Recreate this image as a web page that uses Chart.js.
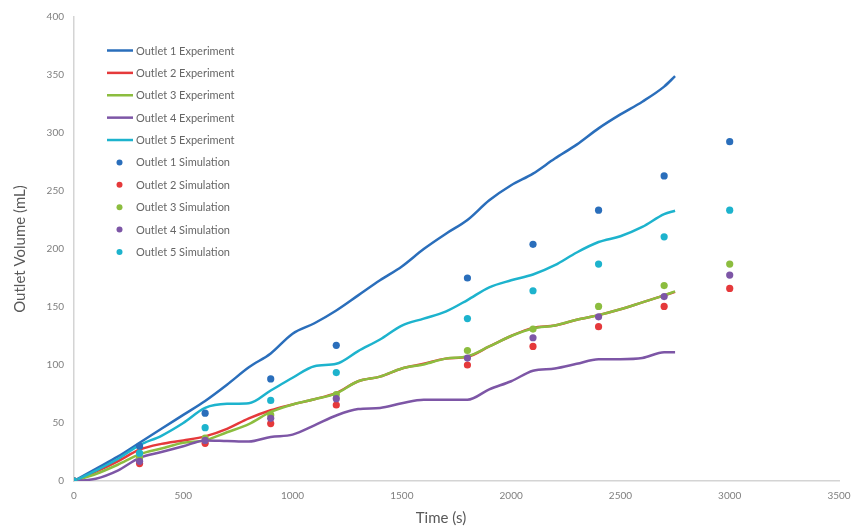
<!DOCTYPE html>
<html>
<head>
<meta charset="utf-8">
<script src="https://cdn.jsdelivr.net/npm/chart.js@4/dist/chart.umd.min.js"></script>
<style>
  html, body { margin: 0; padding: 0; background: #ffffff; }
  #wrap { width: 851px; height: 529px; position: relative; }
</style>
</head>
<body>
<div id="wrap"><canvas id="chart"></canvas></div>
<script>
// Measured outlet volumes (mL) sampled every 100 s
const expTimes = [0, 100, 200, 300, 400, 500, 600, 700, 800, 900, 1000, 1100, 1200, 1300,
  1400, 1500, 1600, 1700, 1800, 1900, 2000, 2100, 2200, 2300, 2400, 2500, 2600, 2700, 2750];
const outlet1Exp = [0, 10.5, 21, 33, 45, 57, 69, 83, 98, 110, 127, 136, 147, 160,
  173, 185, 200, 213, 225, 242, 255, 265, 278, 290, 304, 316, 327, 340, 349];
const outlet2Exp = [0, 8, 17, 27, 32, 35, 38.5, 45, 54, 61, 66, 70.5, 76, 86,
  90, 97, 101, 105.5, 107, 116, 125, 132, 134, 139, 143, 148, 154, 160, 163];
const outlet3Exp = [0, 6, 14, 23, 28, 33, 35, 42, 49, 59.5, 66, 70.5, 75.5, 86,
  90, 97, 100.5, 105.5, 107.5, 116, 125, 131.5, 134, 139, 143, 148, 154, 160, 163.5];
const outlet4Exp = [0, 2, 9, 20, 25, 30, 35, 34.5, 34, 38, 40, 48, 56.5, 62,
  63, 67, 70, 70, 70, 79, 86, 95, 97, 101, 105, 105, 106, 111, 111];
const outlet5Exp = [0, 9, 19, 31, 39, 50, 63, 66.5, 67, 78, 89, 99, 101, 112,
  122, 134, 140, 146, 156, 167, 173, 178, 186, 197, 206, 211, 219, 230, 233];

// Simulated outlet volumes (mL)
const simTimes = [0, 300, 600, 900, 1200, 1800, 2100, 2400, 2700, 3000];
const outlet1Sim = [0, 30, 58.5, 88, 117, 175, 204, 233.5, 263, 292.5];
const outlet2Sim = [0, 15, 32.5, 49.5, 65.5, 100, 116, 133, 150.5, 166];
const outlet3Sim = [0, 20, 37, 57, 74.5, 112.5, 131, 150.5, 168.5, 187];
const outlet4Sim = [0, 17, 35, 54, 71, 106, 123.5, 141.5, 159, 177.5];
const outlet5Sim = [0, 24, 46, 69.5, 93.5, 140, 164, 187, 210.5, 233.5];

const xTicks = [0, 500, 1000, 1500, 2000, 2500, 3000, 3500];
const yTicks = [0, 50, 100, 150, 200, 250, 300, 350, 400];

const seriesNames = ['Outlet 1', 'Outlet 2', 'Outlet 3', 'Outlet 4', 'Outlet 5'];
const seriesColors = ['#2a6ebb', '#e5393b', '#8cbd3f', '#7d56a6', '#1db3cd'];

const FONT = 'Lato, "Open Sans", sans-serif';

function pairs(xs, ys) {
  return xs.map((x, i) => ({ x: x, y: ys[i] }));
}

const expSeries = [outlet1Exp, outlet2Exp, outlet3Exp, outlet4Exp, outlet5Exp];
const simSeries = [outlet1Sim, outlet2Sim, outlet3Sim, outlet4Sim, outlet5Sim];

const datasets = [];
expSeries.forEach((vals, i) => {
  datasets.push({
    label: seriesNames[i] + ' Experiment',
    data: pairs(expTimes, vals),
    showLine: true,
    borderColor: seriesColors[i],
    backgroundColor: seriesColors[i],
    borderWidth: 2.5,
    pointRadius: 0,
    pointHoverRadius: 0,
    cubicInterpolationMode: 'monotone',
    order: 9 - i,
    kind: 'line'
  });
});
simSeries.forEach((vals, i) => {
  datasets.push({
    label: seriesNames[i] + ' Simulation',
    data: pairs(simTimes, vals),
    showLine: false,
    borderColor: seriesColors[i],
    backgroundColor: seriesColors[i],
    borderWidth: 0,
    pointRadius: 3.6,
    pointStyle: 'circle',
    order: 4 - i,
    kind: 'dot'
  });
});

// Legend drawn inside the plot area, top-left
const insideLegend = {
  id: 'insideLegend',
  afterDatasetsDraw(chart) {
    const ctx = chart.ctx;
    const x0 = 107, x1 = 133, textX = 136;
    const yStart = 50.5, step = 22.38;
    ctx.save();
    ctx.font = '11px ' + FONT;
    ctx.textBaseline = 'middle';
    ctx.textAlign = 'left';
    chart.data.datasets.forEach((ds, i) => {
      const y = yStart + i * step;
      if (ds.kind === 'line') {
        ctx.strokeStyle = ds.borderColor;
        ctx.lineWidth = 2.5;
        ctx.beginPath();
        ctx.moveTo(x0, y);
        ctx.lineTo(x1, y);
        ctx.stroke();
      } else {
        ctx.fillStyle = ds.backgroundColor;
        ctx.beginPath();
        ctx.arc(119.5, y, 3, 0, Math.PI * 2);
        ctx.fill();
      }
      ctx.fillStyle = '#666666';
      ctx.fillText(ds.label, textX, y + 0.5);
    });
    ctx.restore();
  }
};

// Horizontal axis title
const xTitle = {
  id: 'xTitle',
  afterDraw(chart) {
    const ctx = chart.ctx;
    ctx.save();
    ctx.font = '15px ' + FONT;
    ctx.fillStyle = '#595959';
    ctx.textAlign = 'center';
    ctx.textBaseline = 'middle';
    ctx.fillText('Time (s)', 441, 518);
    ctx.restore();
  }
};

new Chart(document.getElementById('chart'), {
  type: 'scatter',
  data: { datasets: datasets },
  plugins: [insideLegend, xTitle],
  options: {
    responsive: true,
    maintainAspectRatio: false,
    animation: false,
    layout: { padding: { top: 17, right: 12, left: 0, bottom: 0 } },
    plugins: {
      legend: { display: false },
      tooltip: { enabled: false }
    },
    scales: {
      x: {
        type: 'linear',
        min: 0,
        max: 3500,
        afterFit(scale) {
          scale.height = 48;
          scale.paddingLeft = 0;
          scale.paddingRight = 0;
        },
        afterBuildTicks(scale) { scale.ticks = xTicks.map(v => ({ value: v })); },
        grid: { display: false, drawTicks: false },
        border: { display: true, color: '#d4d4d4', width: 1.5 },
        ticks: {
          padding: 9,
          color: '#7f7f7f',
          font: { family: FONT, size: 10 },
          maxRotation: 0,
          callback: (v) => String(v)
        },
        title: { display: false }
      },
      y: {
        type: 'linear',
        min: 0,
        max: 400,
        afterFit(scale) {
          scale.width = 74;
          scale.paddingTop = 0;
          scale.paddingBottom = 0;
        },
        afterBuildTicks(scale) { scale.ticks = yTicks.map(v => ({ value: v })); },
        grid: { display: false, drawTicks: false },
        border: { display: true, color: '#d4d4d4', width: 1.5 },
        ticks: {
          padding: 10,
          color: '#7f7f7f',
          font: { family: FONT, size: 10 },
          callback: (v) => String(v)
        },
        title: {
          display: true,
          text: 'Outlet Volume (mL)',
          color: '#595959',
          font: { family: FONT, size: 15 },
          padding: { top: 11, bottom: 0 }
        }
      }
    }
  }
});
</script>
</body>
</html>
